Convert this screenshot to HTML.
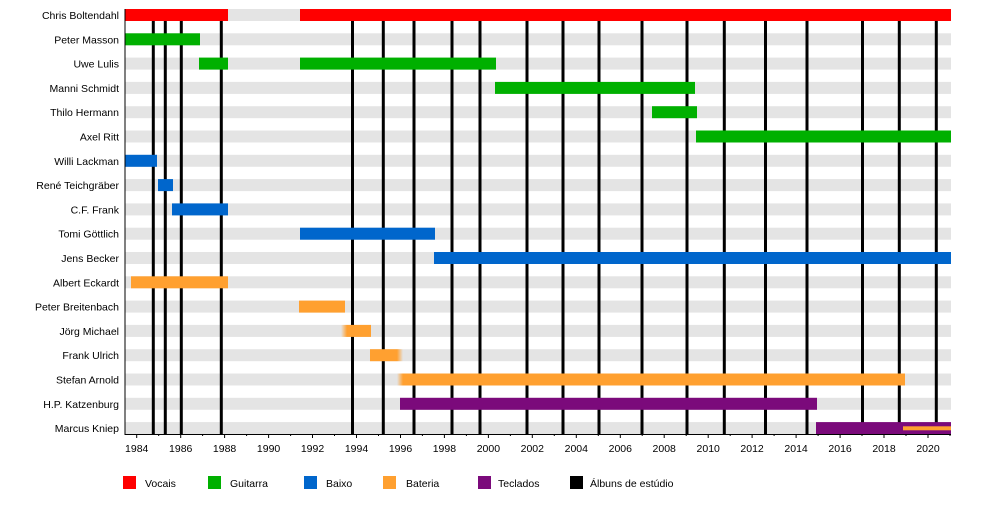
<!DOCTYPE html>
<html><head><meta charset="utf-8"><style>
html,body{margin:0;padding:0;background:#fff}
svg{display:block;font-family:"Liberation Sans",sans-serif}
</style></head><body>
<svg width="1000" height="508" viewBox="0 0 1000 508" xmlns="http://www.w3.org/2000/svg">
<defs>
<linearGradient id="fl" x1="0" x2="1"><stop offset="0" stop-color="#ffa030" stop-opacity="0"/><stop offset="1" stop-color="#ffa030"/></linearGradient>
<linearGradient id="fr" x1="0" x2="1"><stop offset="0" stop-color="#ffa030"/><stop offset="1" stop-color="#ffa030" stop-opacity="0"/></linearGradient>
</defs>
<g fill="#e4e4e4">
<rect x="125" y="9" width="826" height="12"/>
<rect x="125" y="33.3" width="826" height="12"/>
<rect x="125" y="57.6" width="826" height="12"/>
<rect x="125" y="81.9" width="826" height="12"/>
<rect x="125" y="106.2" width="826" height="12"/>
<rect x="125" y="130.5" width="826" height="12"/>
<rect x="125" y="154.8" width="826" height="12"/>
<rect x="125" y="179.1" width="826" height="12"/>
<rect x="125" y="203.4" width="826" height="12"/>
<rect x="125" y="227.7" width="826" height="12"/>
<rect x="125" y="252" width="826" height="12"/>
<rect x="125" y="276.3" width="826" height="12"/>
<rect x="125" y="300.6" width="826" height="12"/>
<rect x="125" y="324.9" width="826" height="12"/>
<rect x="125" y="349.2" width="826" height="12"/>
<rect x="125" y="373.5" width="826" height="12"/>
<rect x="125" y="397.8" width="826" height="12"/>
<rect x="125" y="422.1" width="826" height="12"/>
</g>
<g stroke="#000" stroke-width="3">
<line x1="153.3" y1="20" x2="153.3" y2="435"/><line x1="165.3" y1="20" x2="165.3" y2="435"/>
<line x1="181.3" y1="20" x2="181.3" y2="435"/><line x1="221.3" y1="20" x2="221.3" y2="435"/>
<line x1="352.5" y1="20" x2="352.5" y2="435"/><line x1="383.3" y1="20" x2="383.3" y2="435"/>
<line x1="414" y1="20" x2="414" y2="435"/><line x1="452" y1="20" x2="452" y2="435"/>
<line x1="480" y1="20" x2="480" y2="435"/><line x1="527" y1="20" x2="527" y2="435"/>
<line x1="563" y1="20" x2="563" y2="435"/><line x1="599" y1="20" x2="599" y2="435"/>
<line x1="642" y1="20" x2="642" y2="435"/><line x1="687" y1="20" x2="687" y2="435"/>
<line x1="724.3" y1="20" x2="724.3" y2="435"/><line x1="765.5" y1="20" x2="765.5" y2="435"/>
<line x1="807" y1="20" x2="807" y2="435"/><line x1="862.5" y1="20" x2="862.5" y2="435"/>
<line x1="899.3" y1="20" x2="899.3" y2="435"/><line x1="936.3" y1="20" x2="936.3" y2="435"/>
</g>
<g>
<rect x="125" y="9" width="103" height="12" fill="#ff0000"/>
<rect x="300" y="9" width="651" height="12" fill="#ff0000"/>
<rect x="125" y="33.3" width="75" height="12" fill="#00b000"/>
<rect x="199" y="57.6" width="29" height="12" fill="#00b000"/>
<rect x="300" y="57.6" width="196" height="12" fill="#00b000"/>
<rect x="495" y="81.9" width="200" height="12" fill="#00b000"/>
<rect x="652" y="106.2" width="45" height="12" fill="#00b000"/>
<rect x="696" y="130.5" width="255" height="12" fill="#00b000"/>
<rect x="125" y="154.8" width="32" height="12" fill="#0066cc"/>
<rect x="158" y="179.1" width="15" height="12" fill="#0066cc"/>
<rect x="172" y="203.4" width="56" height="12" fill="#0066cc"/>
<rect x="300" y="227.7" width="135" height="12" fill="#0066cc"/>
<rect x="434" y="252" width="517" height="12" fill="#0066cc"/>
<rect x="131" y="276.3" width="97" height="12" fill="#ffa030"/>
<rect x="299" y="300.6" width="46" height="12" fill="#ffa030"/>
<rect x="341" y="324.9" width="6" height="12" fill="url(#fl)"/>
<rect x="347" y="324.9" width="24" height="12" fill="#ffa030"/>
<rect x="370" y="349.2" width="27" height="12" fill="#ffa030"/>
<rect x="397" y="349.2" width="6" height="12" fill="url(#fr)"/>
<rect x="397" y="373.5" width="6" height="12" fill="url(#fl)"/>
<rect x="403" y="373.5" width="502" height="12" fill="#ffa030"/>
<rect x="400" y="397.8" width="417" height="12" fill="#7b0a7b"/>
<rect x="816" y="422.1" width="135" height="12" fill="#7b0a7b"/>
<rect x="903" y="426.3" width="48" height="4" fill="#ffa030"/>
</g>
<g font-size="10.5" fill="#000" text-anchor="end">
<text x="119" y="19">Chris Boltendahl</text>
<text x="119" y="43.3">Peter Masson</text>
<text x="119" y="67.6">Uwe Lulis</text>
<text x="119" y="91.9">Manni Schmidt</text>
<text x="119" y="116.2">Thilo Hermann</text>
<text x="119" y="140.5">Axel Ritt</text>
<text x="119" y="164.8">Willi Lackman</text>
<text x="119" y="189.1">René Teichgräber</text>
<text x="119" y="213.4">C.F. Frank</text>
<text x="119" y="237.7">Tomi Göttlich</text>
<text x="119" y="262">Jens Becker</text>
<text x="119" y="286.3">Albert Eckardt</text>
<text x="119" y="310.6">Peter Breitenbach</text>
<text x="119" y="334.9">Jörg Michael</text>
<text x="119" y="359.2">Frank Ulrich</text>
<text x="119" y="383.5">Stefan Arnold</text>
<text x="119" y="407.8">H.P. Katzenburg</text>
<text x="119" y="432.1">Marcus Kniep</text>
</g>
<line x1="125" y1="9" x2="125" y2="435" stroke="#000" stroke-width="1"/>
<line x1="125" y1="434.5" x2="951" y2="434.5" stroke="#000" stroke-width="1"/>
<g stroke="#000" stroke-width="1">
<path d="M136.7 434v4M158.7 434v2M180.7 434v4M202.6 434v2M224.6 434v4M246.6 434v2M268.6 434v4M290.6 434v2M312.5 434v4M334.5 434v2M356.5 434v4M378.5 434v2M400.5 434v4M422.4 434v2M444.4 434v4M466.4 434v2M488.4 434v4M510.4 434v2M532.3 434v4M554.3 434v2M576.3 434v4M598.3 434v2M620.3 434v4M642.2 434v2M664.2 434v4M686.2 434v2M708.2 434v4M730.2 434v2M752.1 434v4M774.1 434v2M796.1 434v4M818.1 434v2M840.1 434v4M862 434v2M884 434v4M906 434v2M928 434v4M950 434v2"/>
</g>
<g font-size="10.5" fill="#000" text-anchor="middle">
<text x="136.7" y="452">1984</text><text x="180.7" y="452">1986</text><text x="224.6" y="452">1988</text>
<text x="268.6" y="452">1990</text><text x="312.5" y="452">1992</text><text x="356.5" y="452">1994</text>
<text x="400.5" y="452">1996</text><text x="444.4" y="452">1998</text><text x="488.4" y="452">2000</text>
<text x="532.3" y="452">2002</text><text x="576.3" y="452">2004</text><text x="620.3" y="452">2006</text>
<text x="664.2" y="452">2008</text><text x="708.2" y="452">2010</text><text x="752.1" y="452">2012</text>
<text x="796.1" y="452">2014</text><text x="840.1" y="452">2016</text><text x="884" y="452">2018</text>
<text x="928" y="452">2020</text>
</g>
<g font-size="10.5" fill="#000">
<rect x="123" y="476" width="13" height="13" fill="#ff0000"/><text x="145" y="487">Vocais</text>
<rect x="208" y="476" width="13" height="13" fill="#00b000"/><text x="230" y="487">Guitarra</text>
<rect x="304" y="476" width="13" height="13" fill="#0066cc"/><text x="326" y="487">Baixo</text>
<rect x="383" y="476" width="13" height="13" fill="#ffa030"/><text x="406" y="487">Bateria</text>
<rect x="478" y="476" width="13" height="13" fill="#7b0a7b"/><text x="498" y="487">Teclados</text>
<rect x="570" y="476" width="13" height="13" fill="#000"/><text x="590" y="487">Álbuns de estúdio</text>
</g>
</svg>
</body></html>
